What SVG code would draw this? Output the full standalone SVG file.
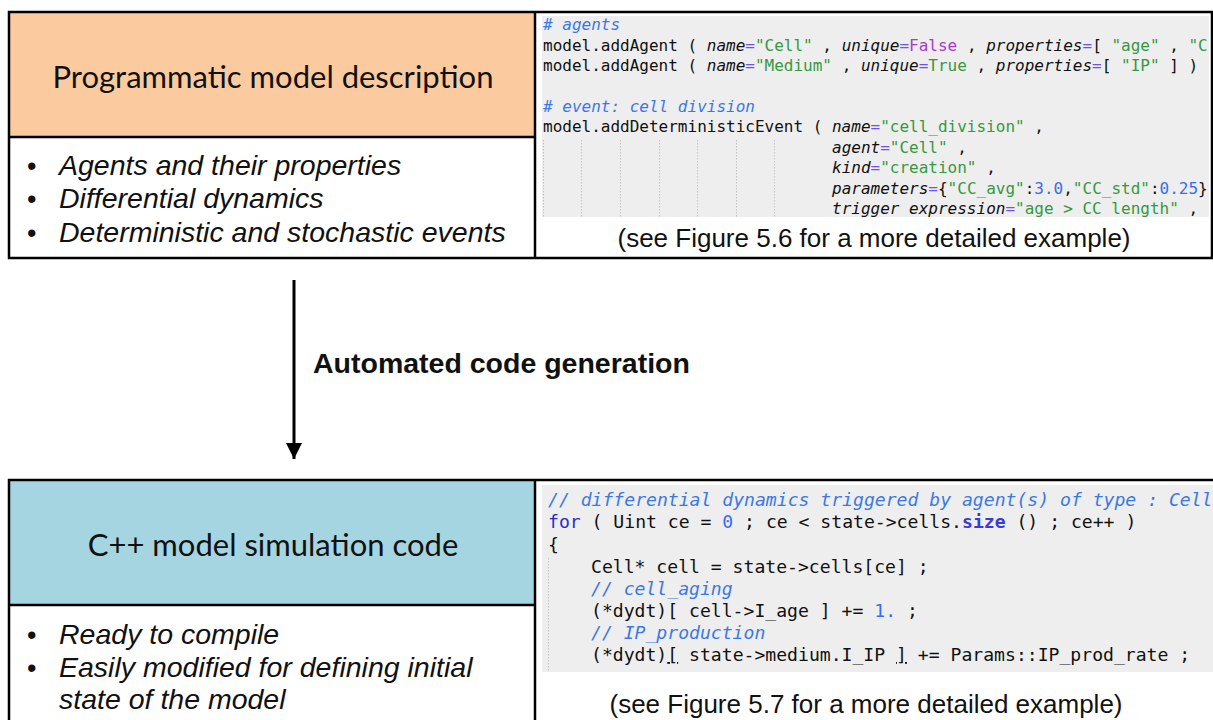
<svg xmlns="http://www.w3.org/2000/svg" width="1213" height="720" viewBox="0 0 1213 720">
<style>
.head{font-family:Lato,"Open Sans","Liberation Sans",sans-serif;font-size:31px;fill:#111;text-anchor:middle}
.bul{font-family:"Liberation Sans",Arial,sans-serif;font-size:28.5px;font-style:italic;fill:#111}
.dot{font-family:"Liberation Sans",Arial,sans-serif;font-size:27px;fill:#111}
.cap{font-family:"Liberation Sans",Arial,sans-serif;font-size:26px;fill:#111;text-anchor:middle}
.lbl{font-family:"Liberation Sans",Arial,sans-serif;font-size:28.5px;font-weight:bold;fill:#111}
.code1{font-family:"DejaVu Sans Mono","Liberation Mono",monospace;font-size:16px;fill:#111}
.code2{font-family:"DejaVu Sans Mono","Liberation Mono",monospace;font-size:18.1px;fill:#111}
.cm{fill:#3a78e8;font-style:italic}
.kw{font-style:italic}
.eq{fill:#7050f0}
.st{fill:#36993f}
.fa{fill:#a93acb}
.nu{fill:#3a6cf0}
.bk{fill:#2a2ad8}
.bb{fill:#3a3ad8;font-weight:bold}
.frame{fill:none;stroke:#000;stroke-width:2.5}
.guide{stroke:#c4c4c4;stroke-width:1;stroke-dasharray:1.5 1.5}
</style>
<defs>
<clipPath id="clipTop"><rect x="542" y="16" width="667" height="201"/></clipPath>
<clipPath id="clipBot"><rect x="542" y="485" width="671" height="187"/></clipPath>
<marker id="arr" viewBox="0 0 10 10" refX="10" refY="5" markerWidth="5.5" markerHeight="5.5" markerUnits="strokeWidth" orient="auto"><path d="M0,0 L10,5 L0,10 z" fill="#000"/></marker>
</defs>

<g id="node-top">
<rect x="9" y="12" width="526" height="125" fill="#fbcb9f"/>
<rect x="9" y="12" width="1203" height="246" class="frame"/>
<line x1="535" y1="12" x2="535" y2="258" class="frame"/>
<line x1="9" y1="137" x2="535" y2="137" class="frame"/>
<text x="273" y="88" class="head">Programmatic model description</text>
<text x="27" y="175" class="dot">•</text>
<text x="59" y="175" class="bul">Agents and their properties</text>
<text x="27" y="208" class="dot">•</text>
<text x="59" y="208" class="bul">Differential dynamics</text>
<text x="27" y="242" class="dot">•</text>
<text x="59" y="242" class="bul">Deterministic and stochastic events</text>
<g id="code-top">
<rect x="542" y="16" width="667" height="201" fill="#eeeeee"/>
<g clip-path="url(#clipTop)">
<line x1="543.5" y1="140" x2="543.5" y2="217" class="guide"/>
<line x1="581.5" y1="140" x2="581.5" y2="217" class="guide"/>
<line x1="620.5" y1="140" x2="620.5" y2="217" class="guide"/>
<line x1="659.5" y1="140" x2="659.5" y2="217" class="guide"/>
<line x1="697.5" y1="140" x2="697.5" y2="217" class="guide"/>
<line x1="736.5" y1="140" x2="736.5" y2="217" class="guide"/>
<line x1="774.5" y1="140" x2="774.5" y2="217" class="guide"/>
<text class="code1" xml:space="preserve">
<tspan x="543" y="30" class="cm"># agents</tspan>
<tspan x="543" y="50.5">model.addAgent ( <tspan class="kw">name</tspan><tspan class="eq">=</tspan><tspan class="st">"Cell"</tspan> , <tspan class="kw">unique</tspan><tspan class="eq">=</tspan><tspan class="fa">False</tspan> , <tspan class="kw">properties</tspan><tspan class="eq">=</tspan>[ <tspan class="st">"age"</tspan> , <tspan class="st">"C</tspan></tspan>
<tspan x="543" y="71">model.addAgent ( <tspan class="kw">name</tspan><tspan class="eq">=</tspan><tspan class="st">"Medium"</tspan> , <tspan class="kw">unique</tspan><tspan class="eq">=</tspan><tspan class="st">True</tspan> , <tspan class="kw">properties</tspan><tspan class="eq">=</tspan>[ <tspan class="st">"IP"</tspan> ] )</tspan>
<tspan x="543" y="111.5" class="cm"># event: cell division</tspan>
<tspan x="543" y="132">model.addDeterministicEvent ( <tspan class="kw">name</tspan><tspan class="eq">=</tspan><tspan class="st">"cell_division"</tspan> ,</tspan>
<tspan x="832" y="152.5"><tspan class="kw">agent</tspan><tspan class="eq">=</tspan><tspan class="st">"Cell"</tspan> ,</tspan>
<tspan x="832" y="173"><tspan class="kw">kind</tspan><tspan class="eq">=</tspan><tspan class="st">"creation"</tspan> ,</tspan>
<tspan x="832" y="193.5"><tspan class="kw">parameters</tspan><tspan class="eq">=</tspan>{<tspan class="st">"CC_avg"</tspan>:<tspan class="nu">3.0</tspan>,<tspan class="st">"CC_std"</tspan>:<tspan class="nu">0.25</tspan>}</tspan>
<tspan x="832" y="213.5"><tspan class="kw">trigger_expression</tspan><tspan class="eq">=</tspan><tspan class="st">"age &gt; CC_length"</tspan> ,</tspan>
</text>
</g>
</g>
<text x="874" y="247" class="cap">(see Figure 5.6 for a more detailed example)</text>
</g>

<g id="connectors">
<line x1="294" y1="280" x2="294" y2="459" stroke="#000" stroke-width="3" marker-end="url(#arr)"/>
<text x="313" y="373" class="lbl">Automated code generation</text>
</g>

<g id="node-bottom">
<rect x="9" y="480" width="526" height="125" fill="#a6d5e2"/>
<path d="M9,722 L9,480 L1213,480" class="frame"/>
<line x1="535" y1="480" x2="535" y2="722" class="frame"/>
<line x1="9" y1="605" x2="535" y2="605" class="frame"/>
<text x="273" y="556" class="head">C++ model simulation code</text>
<text x="27" y="644" class="dot">•</text>
<text x="59" y="644" class="bul">Ready to compile</text>
<text x="27" y="677" class="dot">•</text>
<text x="59" y="677" class="bul">Easily modified for defining initial</text>
<text x="59" y="709" class="bul">state of the model</text>
<g id="code-bottom">
<rect x="542" y="485" width="671" height="187" fill="#eeeeee"/>
<g clip-path="url(#clipBot)">
<line x1="548.5" y1="558" x2="548.5" y2="672" class="guide"/>
<text class="code2" xml:space="preserve">
<tspan x="548" y="506" class="cm">// differential dynamics triggered by agent(s) of type : Cell</tspan>
<tspan x="548" y="528"><tspan class="bk">for</tspan> ( Uint ce = <tspan class="nu">0</tspan> ; ce &lt; state-&gt;cells.<tspan class="bb">size</tspan> () ; ce++ )</tspan>
<tspan x="548" y="551">{</tspan>
<tspan x="591" y="573">Cell* cell = state-&gt;cells[ce] ;</tspan>
<tspan x="591" y="595" class="cm">// cell_aging</tspan>
<tspan x="591" y="617">(*dydt)[ cell-&gt;I_age ] += <tspan class="nu">1.</tspan> ;</tspan>
<tspan x="591" y="639" class="cm">// IP_production</tspan>
<tspan x="591" y="661">(*dydt)<tspan text-decoration="underline">[</tspan> state-&gt;medium.I_IP <tspan text-decoration="underline">]</tspan> += Params::IP_prod_rate ;</tspan>
</text>
</g>
</g>
<text x="866" y="713" class="cap">(see Figure 5.7 for a more detailed example)</text>
</g>
</svg>
